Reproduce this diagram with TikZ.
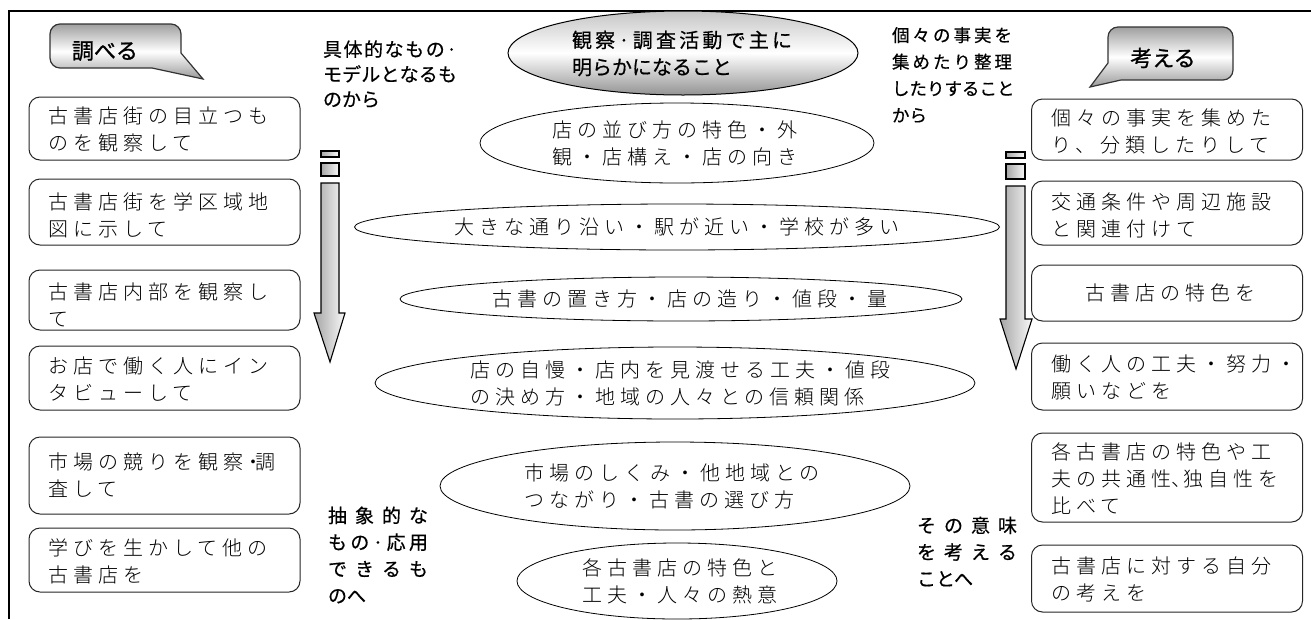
\documentclass[tikz,border=0pt]{standalone}
\usepackage{fontspec}
\usetikzlibrary{shapes.geometric}
\IfFontExistsTF{Noto Sans CJK JP Light}
  {\newfontfamily\jpbox[LetterSpace=25]{Noto Sans CJK JP Light}}
  {\newfontfamily\jpbox[LetterSpace=25]{Noto Sans CJK JP}}
\newfontfamily\jplab[FakeBold=0.5]{Noto Sans CJK JP}
\newfontfamily\jphead[FakeBold=1]{Noto Sans CJK JP}
\newcommand\dl[2]{\makebox[#1][s]{#2}}
\newcommand\nd[1]{\makebox[12pt][l]{#1}}
\begin{document}
\begin{tikzpicture}[x=1pt,y=-1pt,
  every node/.style={inner sep=0pt,outer sep=0pt},
  sidebox/.style={draw=black!85,line width=1pt,rounded corners=11pt,minimum width=271pt},
  ell/.style={draw=black,ellipse,line width=0.8pt,fill=white},
  btxt/.style={font=\jpbox\fontsize{20}{27}\selectfont,align=left,anchor=west},
  ctxt/.style={font=\jpbox\fontsize{20}{27}\selectfont,align=left},
  labtop/.style={font=\jplab\fontsize{19}{25}\selectfont,align=left,anchor=west},
  lab/.style={font=\jplab\fontsize{17.5}{26.7}\selectfont,align=left,anchor=west},
  labb/.style={font=\jplab\fontsize{19}{26.7}\selectfont,align=left,anchor=west},
  bubble/.style={draw=black!80,line width=1.2pt,top color=gray!75,bottom color=gray!80,middle color=white},
  bubtxt/.style={font=\jphead\fontsize{22}{26}\selectfont},
  barrow/.style={draw=black,line width=1.1pt,left color=gray!70,right color=gray!5}
]
\useasboundingbox (0,0) rectangle (1311,619);
\fill[white] (0,0) rectangle (1311,619);
% frame
\draw[line width=1.2pt] (9,619) -- (9,11) -- (1311,11);

% callouts
\draw[bubble] (60,24) -- (171,24) .. controls (176.5,24) and (181,28.5) .. (181,34) -- (181,53) -- (203,79) -- (152,68) -- (60,68) .. controls (54.5,68) and (50,63.5) .. (50,58) -- (50,34) .. controls (50,28.5) and (54.5,24) .. (60,24) -- cycle;
\node[bubtxt] (shiraberu) at (105,51) {調べる};
\draw[bubble] (1118,27) -- (1223,27) .. controls (1228.5,27) and (1233,31.5) .. (1233,37) -- (1233,70) .. controls (1233,75.5) and (1228.5,80) .. (1223,80) -- (1121,80) -- (1090,87) -- (1108,63) -- (1108,37) .. controls (1108,31.5) and (1112.5,27) .. (1118,27) -- cycle;
\node[bubtxt] (kangaeru) at (1163,58) {考える};

% top centre ellipse
\node[draw=black,line width=1pt,ellipse,minimum width=350pt,minimum height=84pt,top color=gray!45,bottom color=gray!85,middle color=white] (E0) at (683,53) {};
\node[font=\jplab\fontsize{20}{27}\selectfont,align=left,anchor=west] (E0t) at (572,53.5)
  {\dl{220pt}{観\hfill 察\hfill ·\hfill 調\hfill 査\hfill 活\hfill 動\hfill で\hfill 主\hfill に}\\明らかになること};

% side labels
\node[labtop] (labTL) at (323,74) {\dl{134pt}{具\hfill 体\hfill 的\hfill な\hfill も\hfill の\hfill ·}\\\dl{134pt}{モ\hfill デ\hfill ル\hfill と\hfill な\hfill る\hfill も}\\のから};
\node[lab] (labTR) at (892,75) {\dl{120pt}{個\hfill 々\hfill の\hfill 事\hfill 実\hfill を}\\\dl{120pt}{集\hfill め\hfill た\hfill り\hfill 整\hfill 理}\\\dl{120pt}{し\hfill た\hfill り\hfill す\hfill る\hfill こ\hfill と}\\から};
\node[labb] (labBL) at (328,555) {\dl{100pt}{抽\hfill 象\hfill 的\hfill な}\\\dl{100pt}{も\hfill の\hfill ·\hfill 応\hfill 用}\\\dl{100pt}{で\hfill き\hfill る\hfill も}\\のへ};
\node[labb] (labBR) at (917,551.5) {\dl{100pt}{そ\hfill の\hfill 意\hfill 味}\\\dl{100pt}{を\hfill 考\hfill え\hfill る}\\ことへ};

% arrows
\draw[barrow] (321,151) rectangle (339,157);
\draw[barrow] (321,163) rectangle (339,176);
\draw[barrow] (321,183) -- (339,183) -- (339,313) -- (345,313) -- (330,362) -- (314,313) -- (321,313) -- cycle;
\draw[barrow] (1006,152) rectangle (1025,158);
\draw[barrow] (1006,164) rectangle (1025,179);
\draw[barrow] (1006,186) -- (1025,186) -- (1025,319) -- (1032,319) -- (1016,369) -- (1000,319) -- (1006,319) -- cycle;

% left boxes
\node[sidebox,minimum height=63pt] (L1) at (164.5,128.5) {};
\node[btxt] (L1t) at (48,129.5) {古書店街の目立つも\\のを観察して};
\node[sidebox,minimum height=66pt] (L2) at (164.5,212) {};
\node[btxt] (L2t) at (48,215) {古書店街を学区域地\\図に示して};
\node[sidebox,minimum height=60pt] (L3) at (164.5,300) {};
\node[btxt] (L3t) at (48,305) {古書店内部を観察し\\て};
\node[sidebox,minimum height=64pt] (L4) at (164.5,378) {};
\node[btxt] (L4t) at (48,379.5) {お店で働く人にイン\\タビューして};
\node[sidebox,minimum height=77pt] (L5) at (164.5,475.5) {};
\node[btxt] (L5t) at (48,475.5) {市場の競りを観察\nd{・}調\\査して};
\node[sidebox,minimum height=64pt] (L6) at (164.5,560) {};
\node[btxt] (L6t) at (48,561) {学びを生かして他の\\古書店を};

% right boxes
\node[sidebox,minimum height=61pt] (R1) at (1167,129.5) {};
\node[btxt] (R1t) at (1051,131.5) {個々の事実を集めた\\り、分類したりして};
\node[sidebox,minimum height=64pt] (R2) at (1167,213) {};
\node[btxt] (R2t) at (1051,215.5) {交通条件や周辺施設\\と関連付けて};
\node[sidebox,minimum height=56pt] (R3) at (1167,293) {};
\node[ctxt] (R3t) at (1170,293) {古書店の特色を};
\node[sidebox,minimum height=67pt] (R4) at (1167,376.5) {};
\node[btxt] (R4t) at (1051,377.5) {働く人の工夫・努力・\\願いなどを};
\node[sidebox,minimum height=89pt] (R5) at (1167,477.5) {};
\node[btxt] (R5t) at (1051,478.5) {各古書店の特色や工\\夫の共通性\nd{、}独自性を\\比べて};
\node[sidebox,minimum height=67pt] (R6) at (1167,578.5) {};
\node[btxt] (R6t) at (1051,579) {古書店に対する自分\\の考えを};

% centre ellipses
\node[ell,minimum width=394pt,minimum height=80pt] (E1) at (677,143) {};
\node[ctxt] (E1t) at (675,143) {店の並び方の特色・外\\観・店構え・店の向き};
\node[ell,minimum width=645pt,minimum height=46pt] (E2) at (677,227) {};
\node[ctxt] (E2t) at (677,227) {大きな通り沿い・駅が近い・学校が多い};
\node[ell,minimum width=562pt,minimum height=44pt] (E3) at (681,299) {};
\node[ctxt] (E3t) at (690,299) {古書の置き方・店の造り・値段・量};
\node[ell,minimum width=600pt,minimum height=72pt] (E4) at (675,383) {};
\node[ctxt] (E4t) at (680,383) {店の自慢・店内を見渡せる工夫・値段\\の決め方・地域の人々との信頼関係};
\node[ell,minimum width=470pt,minimum height=88pt] (E5) at (675,486) {};
\node[ctxt] (E5t) at (672,486) {市場のしくみ・他地域との\\つながり・古書の選び方};
\node[ell,minimum width=320pt,minimum height=76pt] (E6) at (677,581) {};
\node[ctxt] (E6t) at (680,581) {各古書店の特色と\\工夫・人々の熱意};
\end{tikzpicture}
\end{document}
